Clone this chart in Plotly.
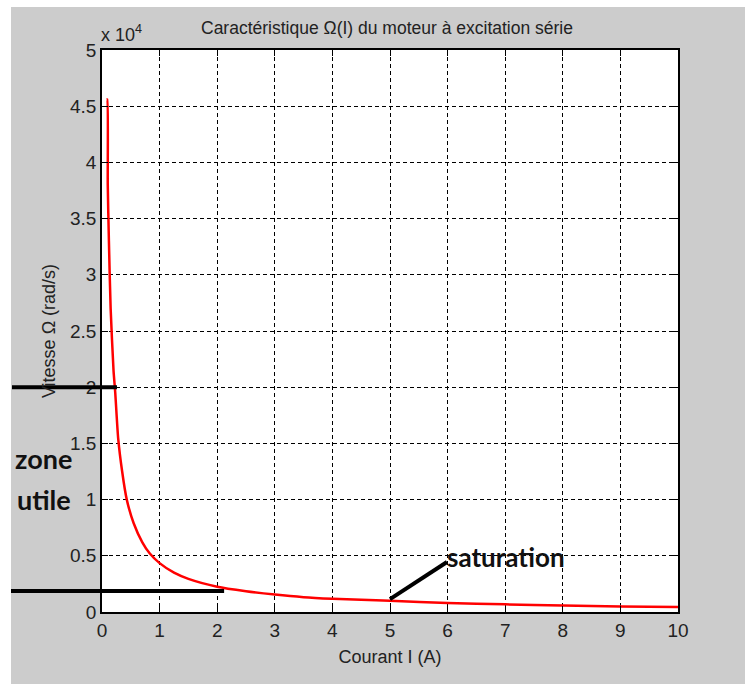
import plotly.graph_objects as go

# Data
current_I = [0.08, 0.09, 0.1, 0.12, 0.15, 0.2, 0.23, 0.28, 0.35, 0.43, 0.55, 0.7, 0.83,
             1.0, 1.25, 1.5, 2.0, 2.5, 3.0, 3.5, 4.0, 4.5, 5.0, 6.0, 7.0, 8.0, 9.0, 10.0]
speed_omega = [45600, 45600, 38000, 33000, 27000, 21500, 19500, 15500, 12500, 10000, 7900,
               6200, 5200, 4350, 3500, 2950, 2250, 1850, 1550, 1320, 1180, 1080, 1000,
               800, 680, 580, 480, 450]

x_ticks = [0, 1, 2, 3, 4, 5, 6, 7, 8, 9, 10]
y_ticks = [0, 5000, 10000, 15000, 20000, 25000, 30000, 35000, 40000, 45000, 50000]
y_ticktext = ["0", "0.5", "1", "1.5", "2", "2.5", "3", "3.5", "4", "4.5", "5"]

x_range = [0, 10]
y_range = [0, 50000]

# annotation marks (in data units)
upper_mark_omega = 20000
upper_mark_end_I = 0.26
lower_mark_omega = 1870
lower_mark_end_I = 2.12
saturation_point = (5.0, 1150)

FONT = "Liberation Sans Narrow, Arial Narrow, Liberation Sans, Arial"
BOLD = "Lato, Carlito, Calibri, Open Sans, sans-serif"

def dx(v):
    return (v - x_range[0]) / (x_range[1] - x_range[0])

def dy(v):
    return (v - y_range[0]) / (y_range[1] - y_range[0])

fig = go.Figure()
fig.add_trace(go.Scatter(x=current_I, y=speed_omega, mode="lines",
                         line=dict(color="#ff0000", width=2.5, shape="spline", smoothing=0.6),
                         showlegend=False))

W, H = 745, 684
L, R, T, B = 102, 67, 50, 72
pw, ph = W - L - R, H - T - B

def px_x(p):
    return (p - L) / pw

def px_y(p):
    return (H - B - p) / ph

shapes = [
    # white page strips outside the gray figure area
    dict(type="rect", xref="paper", yref="paper", x0=px_x(0), x1=px_x(11), y0=px_y(H), y1=px_y(0),
         fillcolor="white", line=dict(width=0), layer="below"),
    dict(type="rect", xref="paper", yref="paper", x0=px_x(0), x1=px_x(W), y0=px_y(7), y1=px_y(0),
         fillcolor="white", line=dict(width=0), layer="below"),
    # black marker lines
    dict(type="line", xref="x domain", yref="y domain", x0=px_x(12), x1=dx(upper_mark_end_I),
         y0=dy(upper_mark_omega), y1=dy(upper_mark_omega), line=dict(color="black", width=4)),
    dict(type="line", xref="x domain", yref="y domain", x0=px_x(11), x1=dx(lower_mark_end_I),
         y0=dy(lower_mark_omega), y1=dy(lower_mark_omega), line=dict(color="black", width=4)),
    # saturation leader
    dict(type="line", xref="x domain", yref="y domain", x0=dx(saturation_point[0]), x1=px_x(447),
         y0=dy(saturation_point[1]), y1=px_y(562), line=dict(color="black", width=4)),
]

annotations = [
    dict(text="Caractéristique Ω(I) du moteur à excitation série", xref="paper", yref="paper",
         x=px_x(387), y=px_y(28), xanchor="center", yanchor="middle", showarrow=False,
         font=dict(family=FONT, size=17.5, color="#222222")),
    dict(text="x 10<sup>4</sup>", xref="paper", yref="paper", x=px_x(99), y=px_y(33),
         xanchor="left", yanchor="middle", showarrow=False,
         font=dict(family=FONT, size=18, color="#222222")),
    dict(text="zone", xref="paper", yref="paper", x=px_x(13), y=px_y(459),
         xanchor="left", yanchor="middle", showarrow=False,
         font=dict(family=BOLD, size=27, color="#111111", weight="bold")),
    dict(text="utile", xref="paper", yref="paper", x=px_x(15), y=px_y(499),
         xanchor="left", yanchor="middle", showarrow=False,
         font=dict(family=BOLD, size=27, color="#111111", weight="bold")),
    dict(text="saturation", xref="paper", yref="paper", x=px_x(445), y=px_y(557),
         xanchor="left", yanchor="middle", showarrow=False,
         font=dict(family=BOLD, size=26, color="#111111", weight="bold")),
]

axis_common = dict(showline=True, linecolor="black", linewidth=1.5, mirror="ticks",
                   ticks="inside", ticklen=6, tickcolor="black",
                   showgrid=True, gridcolor="black", gridwidth=1, griddash="4px,3px",
                   zeroline=False, tickfont=dict(family=FONT, size=19, color="#222222"))

fig.update_layout(
    width=W, height=H,
    margin=dict(l=L, r=R, t=T, b=B, pad=0),
    paper_bgcolor="#cccccc", plot_bgcolor="white",
    shapes=shapes, annotations=annotations,
    xaxis=dict(range=x_range, tickvals=x_ticks, **axis_common,
               title=dict(text="Courant I (A)", standoff=11,
                          font=dict(family=FONT, size=18, color="#222222"))),
    yaxis=dict(range=y_range, tickvals=y_ticks, ticktext=y_ticktext, **axis_common,
               title=dict(text="Vitesse Ω (rad/s)", standoff=10,
                          font=dict(family=FONT, size=18, color="#222222"))),
)

fig.write_html("out.html")
